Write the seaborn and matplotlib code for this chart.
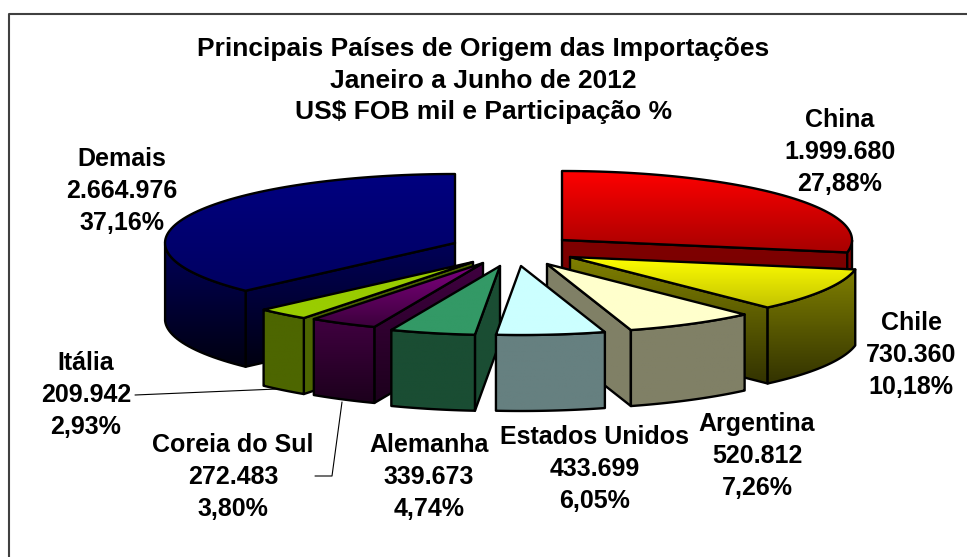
import numpy as np
import matplotlib
matplotlib.use('Agg')
import matplotlib.pyplot as plt
from matplotlib.colors import LinearSegmentedColormap
from matplotlib.patches import Polygon
import seaborn as sns

# dados do grafico
paises = ['China', 'Chile', 'Argentina', 'Estados Unidos', 'Alemanha', 'Coreia do Sul', 'Itália', 'Demais']
valores = [1999680, 730360, 520812, 433699, 339673, 272483, 209942, 2664976]
valores_txt = ['1.999.680', '730.360', '520.812', '433.699', '339.673', '272.483', '209.942', '2.664.976']
percentuais = ['27,88%', '10,18%', '7,26%', '6,05%', '4,74%', '3,80%', '2,93%', '37,16%']

# layout (pixels da figura)
centros = [(562, 240), (570, 257), (547, 264), (521, 266), (500, 266), (483, 263), (473, 262), (455, 243)]
pos_rotulos = [(840, 152), (911, 355), (757, 456), (595, 469), (429, 477), (233, 477), (86, 395), (122, 191)]
ordem = [7, 6, 5, 4, 0, 1, 2, 3]
RX, RY, ALTURA = 290, 69, 76

# cores: (topo claro, topo escuro, lado claro, lado escuro)
cores = [
    ('#ff0000', '#a80000', '#800000', '#700000'),
    ('#ffff00', '#c4c400', '#808000', '#333300'),
    ('#ffffcc', '#ffffcc', '#808066', '#808066'),
    ('#ccffff', '#ccffff', '#668080', '#668080'),
    ('#339966', '#339966', '#1a4d33', '#1a4d33'),
    ('#800080', '#3c003c', '#400040', '#1c001c'),
    ('#99cc00', '#99cc00', '#4d6600', '#4d6600'),
    ('#000080', '#000060', '#000058', '#000010'),
]

sns.set_theme(style='white')
plt.rcParams['font.family'] = ['Liberation Sans', 'DejaVu Sans']

fig = plt.figure(figsize=(9.67, 5.57), dpi=100)
ax = fig.add_axes([0, 0, 1, 1])
ax.set_xlim(0, 967)
ax.set_ylim(557, 0)
ax.axis('off')


def ponto(c, ang, desce=0):
    return (c[0] + RX * np.sin(ang), c[1] - RY * np.cos(ang) + desce)


def face(pts, cor1, cor2, zorder):
    pts = np.array(pts)
    cmap = LinearSegmentedColormap.from_list('g', [cor1, cor2])
    img = ax.imshow(np.linspace(0, 1, 128).reshape(-1, 1), cmap=cmap, aspect='auto',
                    extent=(pts[:, 0].min(), pts[:, 0].max(), pts[:, 1].max(), pts[:, 1].min()),
                    zorder=zorder)
    pol = Polygon(pts, closed=True, facecolor='none', edgecolor='black', lw=1.7,
                  joinstyle='round', zorder=zorder + 0.5)
    ax.add_patch(pol)
    img.set_clip_path(pol)


# fatias calculadas a partir dos valores, sentido horario desde o topo
total = sum(valores)
limites = np.cumsum([0] + valores) / total * 2 * np.pi

for z, i in enumerate(ordem):
    a, b = limites[i], limites[i + 1]
    c = centros[i]
    topo1, topo2, lado1, lado2 = cores[i]
    base = 10 + z * 10
    arco = np.linspace(a, b, 80)

    # faces de corte viradas para a frente
    if -np.cos(a - np.pi / 2) > 0:
        face([c, ponto(c, a), ponto(c, a, ALTURA), (c[0], c[1] + ALTURA)], lado1, lado2, base)
    if -np.cos(b + np.pi / 2) > 0:
        face([c, ponto(c, b), ponto(c, b, ALTURA), (c[0], c[1] + ALTURA)], lado1, lado2, base + 1)

    # parede externa (so a parte da frente)
    frente = arco[np.cos(arco) < 0]
    if len(frente) > 1:
        cima = [ponto(c, t) for t in frente]
        baixo = [ponto(c, t, ALTURA) for t in frente[::-1]]
        face(cima + baixo, lado1, lado2, base + 2)

    # tampa
    face([c] + [ponto(c, t) for t in arco], topo1, topo2, base + 4)

# linhas de chamada
ax.plot([135, 277], [395, 389], color='black', lw=0.8, zorder=200)
ax.plot([342, 332, 315], [402, 476, 476], color='black', lw=0.8, zorder=200)

# rotulos
for i, (x, y) in enumerate(pos_rotulos):
    ax.text(x, y, f'{paises[i]}\n{valores_txt[i]}\n{percentuais[i]}', ha='center', va='center',
            fontsize=18, fontweight='bold', linespacing=1.42, color='black', zorder=210)

ax.text(483.5, 80.5, 'Principais Países de Origem das Importações\nJaneiro a Junho de 2012\nUS$ FOB mil e Participação %',
        ha='center', va='center', fontsize=19, fontweight='bold', linespacing=1.42, color='black', zorder=210)

# borda do grafico (aberta a direita e embaixo)
ax.plot([9, 9, 967], [557, 14, 14], color='#404040', lw=1.5, zorder=220)

fig.savefig('out.png', dpi=100)
plt.close(fig)
